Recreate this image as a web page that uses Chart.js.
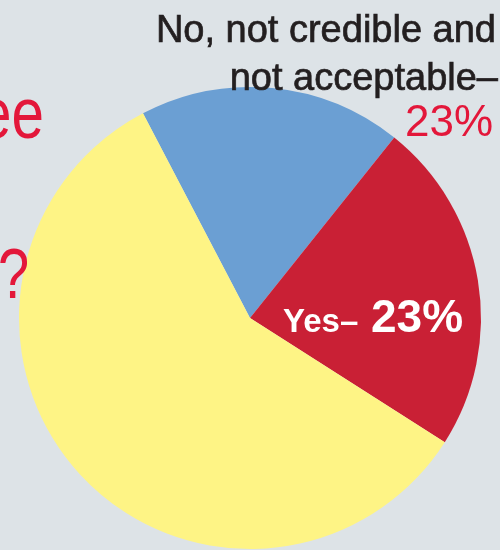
<!DOCTYPE html>
<html>
<head>
<meta charset="utf-8">
<script src="https://cdn.jsdelivr.net/npm/chart.js@4/dist/chart.umd.min.js"></script>
<style>
  html, body { margin: 0; padding: 0; background: #dde3e7; }
  #wrap { position: relative; width: 500px; height: 550px; overflow: hidden; }
</style>
</head>
<body>
<div id="wrap"><canvas id="pie"></canvas></div>
<script>
/* =========================
   Data
========================= */

const categories = ["No, not credible and not acceptable", "Yes", "No answer"];
const shares = [18.4, 23.3, 58.3];
const colors = ["#6b9fd3", "#c92035", "#fef485"];
const shownPct = ["23%", "23%"];
const titleBits = ["ee", "?"];

/* =========================
   Text drawing helper
========================= */

function drawText(ctx, text, x, y, font, color, align, squeeze, stroke) {
  ctx.save();
  ctx.translate(x, y);
  ctx.scale(squeeze || 1, 1);
  ctx.font = font;
  ctx.fillStyle = color;
  ctx.textAlign = align;
  ctx.textBaseline = "alphabetic";
  ctx.fillText(text, 0, 0);
  if (stroke) {
    // thicken the strokes a little, like the printed original
    ctx.strokeStyle = color;
    ctx.lineWidth = stroke;
    ctx.strokeText(text, 0, 0);
  }
  ctx.restore();
}

const labelPlugin = {
  id: "labels",
  afterDraw(chart) {
    const ctx = chart.ctx;
    const sans = '"Liberation Sans", Arial, sans-serif';

    // cropped title pieces on the left
    drawText(ctx, titleBits[0], 44, 138, "73px " + sans, "#e3173a", "right", 0.8);
    drawText(ctx, titleBits[1], -2, 298, "70px " + sans, "#e3173a", "left", 0.8);

    // label for the blue slice
    const parts = categories[0].split(" not acceptable");
    drawText(ctx, parts[0], 496, 42, "38px " + sans, "#231f20", "right", 1, 0.7);
    drawText(ctx, "not acceptable\u2013", 498, 90, "38px " + sans, "#231f20", "right", 1, 0.7);
    drawText(ctx, shownPct[0], 493, 136, "44px " + sans, "#e3173a", "right");

    // label for the red slice
    drawText(ctx, categories[1] + "\u2013", 283, 332, "bold 33px " + sans, "#ffffff", "left");
    drawText(ctx, shownPct[1], 371, 332, "bold 46px " + sans, "#ffffff", "left");
  }
};

/* =========================
   Pie
========================= */

new Chart(document.getElementById("pie"), {
  type: "pie",
  data: {
    labels: categories,
    datasets: [{
      data: shares,
      backgroundColor: colors,
      borderWidth: 0
    }]
  },
  options: {
    responsive: true,
    maintainAspectRatio: false,
    animation: false,
    rotation: -27.6,
    layout: { padding: { top: 87, left: 19, right: 19, bottom: 1 } },
    plugins: {
      legend: { display: false },
      tooltip: { enabled: false }
    }
  },
  plugins: [labelPlugin]
});
</script>
</body>
</html>
